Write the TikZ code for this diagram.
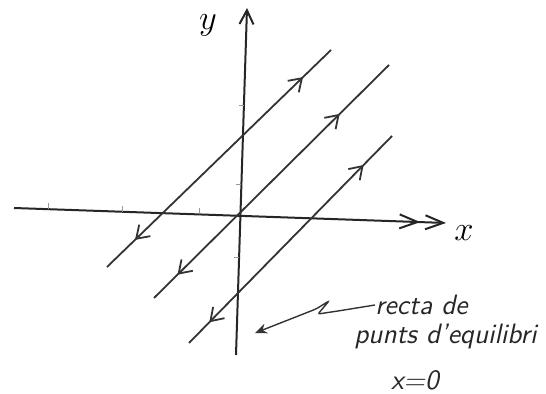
\documentclass[tikz,border=0pt]{standalone}
\usetikzlibrary{arrows.meta,decorations.markings,calc}

\begin{document}
\begin{tikzpicture}[
  x=0.5pt, y=-0.5pt,
  >={Straight Barb[length=6pt,width=8pt]},
  axis/.style={line width=1pt, black!85},
  orbit/.style={line width=0.9pt, black!80},
  tickmark/.style={line width=0.5pt, black!40},
  hand/.style={font=\sffamily\itshape\fontsize{14}{16}\selectfont, inner sep=0pt, text=black!85},
  flow/.style 2 args={postaction={decorate}, decoration={markings,
      mark=at position #1 with {\arrowreversed{>}},
      mark=at position #2 with {\arrow{>}}}},
  pointer/.style={line width=0.7pt, black!80, rounded corners=1pt,
      -{Stealth[length=6pt,width=5pt]}}
]
  \useasboundingbox (0,0) rectangle (546,394);

  % axes
  \coordinate (xl) at (14,208);
  \coordinate (xr) at (446,223);
  \coordinate (yb) at (236,355);
  \coordinate (yt) at (247,8);
  \draw[axis, -{Straight Barb[length=9pt,width=7pt,sep=2pt] Straight Barb[length=9pt,width=7pt]}] (xl) -- (xr);
  \draw[axis, -{Straight Barb[length=7pt,width=7pt]}] (yb) -- (yt);
  \foreach \t in {0.08,0.25,0.43}
    \draw[tickmark] ($(xl)!\t!(xr)$) -- ++(0,-6);
  \foreach \t in {0.28,0.49,0.72}
    \draw[tickmark] ($(yb)!\t!(yt)$) -- ++(-5,0);
  \node[font=\LARGE] (ylab) at (208,25) {$y$};
  \node[font=\LARGE] (xlab) at (464,233) {$x$};

  % trajectories
  \coordinate (a1) at (107,267);  \coordinate (b1) at (331,50);
  \coordinate (a2) at (154,298);  \coordinate (b2) at (389,65);
  \coordinate (a3) at (189,343);  \coordinate (b3) at (392,136);
  \draw[orbit, flow={0.125}{0.875}] (a1) -- (b1);
  \draw[orbit, flow={0.10}{0.79}] (a2) -- (b2);
  \draw[orbit, flow={0.10}{0.86}] (a3) -- (b3);

  % label
  \node[hand, anchor=west] (recta) at (375,305) {recta de};
  \node[hand, anchor=west] (punts) at (354,337) {punts d'equilibri};
  \node[hand] (eq) at (415,380) {x=0};
  \coordinate (w1) at (338,311);
  \coordinate (w2) at (318,314);
  \coordinate (w3) at (329,301);
  \coordinate (w4) at (316,309);
  \coordinate (tip) at (255,333);
  \draw[pointer] (recta.west) -- (w1) -- (w2) -- (w3) -- (w4) -- (tip);
\end{tikzpicture}
\end{document}
